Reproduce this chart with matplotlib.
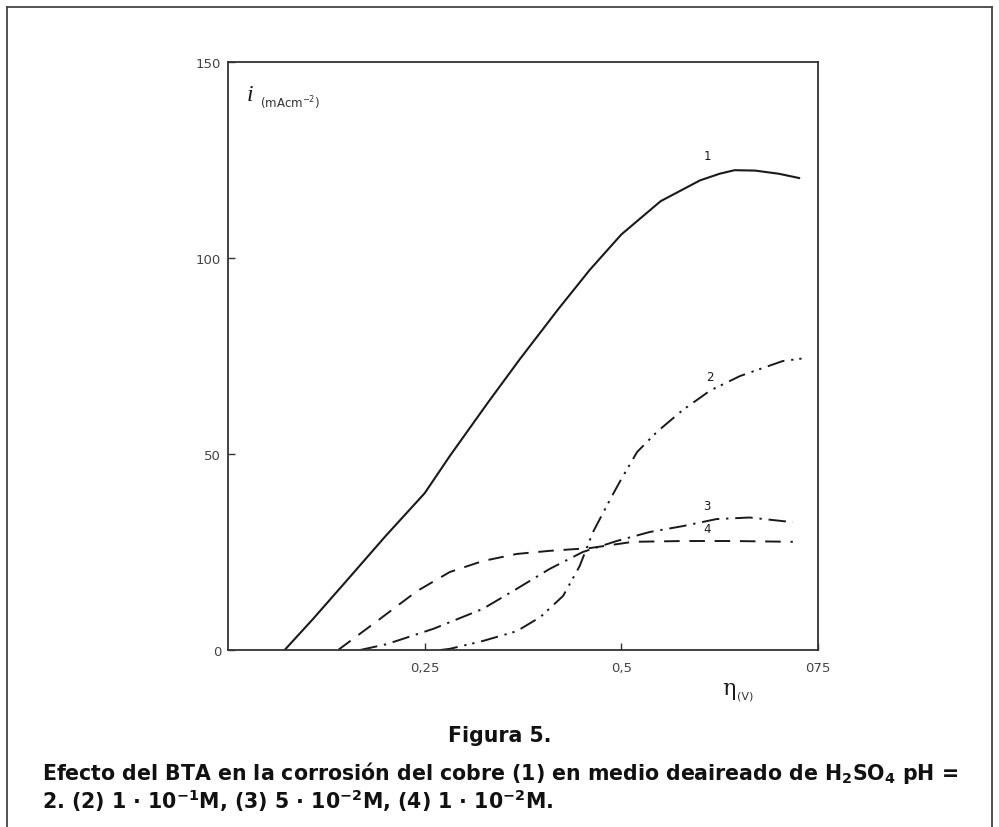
import matplotlib
matplotlib.use("Agg")
import matplotlib.pyplot as plt
from matplotlib.lines import Line2D

# ---- data ----
x1 = [0.072, 0.108, 0.15, 0.2, 0.25, 0.282, 0.33, 0.371, 0.42, 0.46, 0.50, 0.55, 0.60, 0.625, 0.644, 0.67, 0.70, 0.726]
y1 = [0, 7.9, 17.5, 29, 40, 49.5, 63, 74.2, 87, 97, 106, 114.5, 119.8, 121.5, 122.4, 122.3, 121.5, 120.4]

x2 = [0.27, 0.282, 0.324, 0.367, 0.397, 0.426, 0.447, 0.464, 0.486, 0.498, 0.52, 0.545, 0.578, 0.613, 0.651, 0.705, 0.735]
y2 = [0, 0.3, 2.3, 4.8, 8.4, 13.8, 21.4, 30.1, 38.5, 42.9, 50.5, 55.6, 61.2, 66.2, 69.9, 73.7, 74.5]

x3 = [0.168, 0.202, 0.261, 0.282, 0.324, 0.367, 0.409, 0.451, 0.494, 0.536, 0.578, 0.621, 0.663, 0.718]
y3 = [0, 1.5, 5.4, 7.1, 10.5, 15.6, 20.7, 25.0, 27.8, 30.1, 31.6, 33.4, 33.8, 32.6]

x4 = [0.14, 0.193, 0.24, 0.282, 0.324, 0.367, 0.409, 0.46, 0.515, 0.578, 0.642, 0.718]
y4 = [0, 7.9, 15, 19.9, 22.7, 24.5, 25.3, 26.0, 27.6, 27.8, 27.8, 27.6]

xticks = [0.25, 0.5, 0.75]
xticklabels = ["0,25", "0,5", "075"]
yticks = [0, 50, 100, 150]
yticklabels = ["0", "50", "100", "150"]

curve_labels = ["1", "2", "3", "4"]
label_pos = [(0.609, 124.5), (0.612, 68.0), (0.609, 35.2), (0.609, 29.4)]

caption_title = "Figura 5."
caption_l1 = r"Efecto del BTA en la corrosión del cobre (1) en medio deaireado de H$_\mathregular{2}$SO$_\mathregular{4}$ pH ="
caption_l2 = r"2. (2) 1 · 10$^\mathregular{−1}$M, (3) 5 · 10$^\mathregular{−2}$M, (4) 1 · 10$^\mathregular{−2}$M."

W, H = 999, 828
fig = plt.figure(figsize=(W / 100, H / 100), dpi=100)
ax = fig.add_axes([228 / W, (H - 651) / H, 590 / W, 588 / H])

ink = "#1a1a1a"
ax.plot(x1, y1, color=ink, lw=1.5, ls="-")
ax.plot(x2, y2, color=ink, lw=1.4, dashes=(9, 3.5, 1.2, 3, 1.2, 3.5))
ax.plot(x3, y3, color=ink, lw=1.4, dashes=(9, 3.5, 1.2, 3.5))
ax.plot(x4, y4, color=ink, lw=1.4, dashes=(8, 5))

for lab, (lx, ly) in zip(curve_labels, label_pos):
    ax.text(lx, ly, lab, fontsize=8.5, color=ink, ha="center", va="bottom")

ax.set_xlim(0, 0.75)
ax.set_ylim(0, 150)
ax.set_xticks(xticks)
ax.set_xticklabels(xticklabels)
ax.set_yticks(yticks)
ax.set_yticklabels(yticklabels)
ax.tick_params(direction="in", length=5, width=1.0, colors="#333333",
               labelsize=9.5, labelcolor="#444444")
ax.tick_params(axis="x", pad=8)
ax.tick_params(axis="y", pad=5)
for s in ax.spines.values():
    s.set_linewidth(1.3)
    s.set_color("#333333")

# axis labels
ax.text(0.032, 0.935, "i", transform=ax.transAxes, fontsize=17, style="italic",
        family="Liberation Serif", color=ink, ha="left", va="baseline")
ax.text(0.055, 0.923, r"(mAcm$^{-2}$)", transform=ax.transAxes, fontsize=8.5,
        color="#333333", ha="left", va="baseline")
ax.text(0.838, -0.075, "η", transform=ax.transAxes, fontsize=16,
        family="DejaVu Serif", color=ink, ha="left", va="baseline")
ax.text(0.862, -0.082, "(V)", transform=ax.transAxes, fontsize=8,
        color="#333333", ha="left", va="baseline")

# caption (bold), sized so the long line spans the reference width
cap_font = dict(family=["DejaVu Sans"], weight="bold", color="#111111")
t0 = fig.text(500 / W, 1 - 736 / H, caption_title, fontsize=15, ha="center", va="center", **cap_font)
t1 = fig.text(42 / W, 1 - 773 / H, caption_l1, fontsize=15, ha="left", va="center", **cap_font)
t2 = fig.text(42 / W, 1 - 801 / H, caption_l2, fontsize=15, ha="left", va="center", **cap_font)
fig.canvas.draw()
w = t1.get_window_extent().width
fs = 15 * 920 / w
for t in (t0, t1, t2):
    t.set_fontsize(fs)

# outer frame
fx0, fx1 = 7 / W, 992 / W
fy1 = 1 - 8 / H
frame_kw = dict(color="#444444", lw=1.3, transform=fig.transFigure)
fig.add_artist(Line2D([fx0, fx1], [fy1, fy1], **frame_kw))
fig.add_artist(Line2D([fx0, fx0], [0, fy1], **frame_kw))
fig.add_artist(Line2D([fx1, fx1], [0, fy1], **frame_kw))

fig.savefig("out.png", dpi=100, facecolor="white")
